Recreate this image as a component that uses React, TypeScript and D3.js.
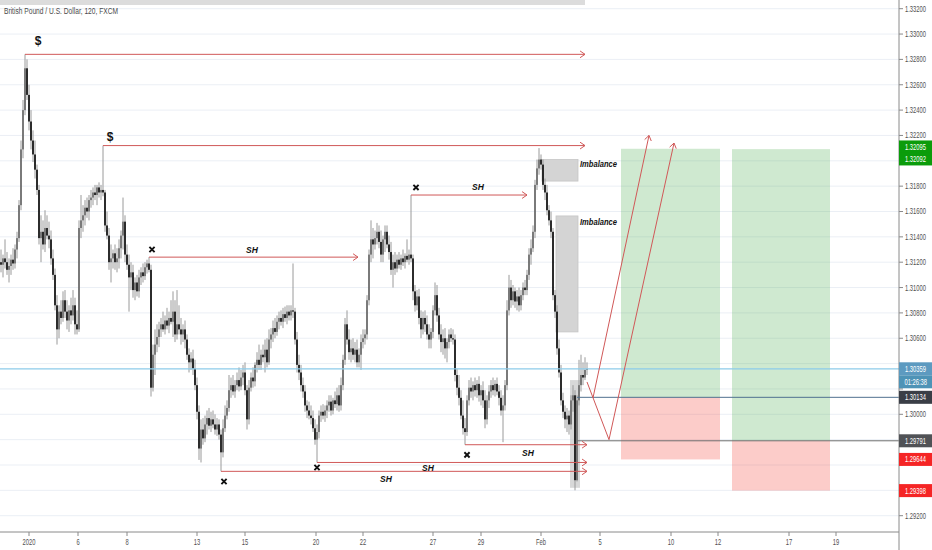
import React from "react";
import * as d3 from "d3";

// GBPUSD 2h candles, [open, high, low, close]
type Bar = [number, number, number, number];

const week0: Bar[] = [
  [1.3120,1.3130,1.3112,1.3118],[1.3118,1.3126,1.3108,1.3123],[1.3123,1.3138,1.3115,1.3120],[1.3120,1.3128,1.3110,1.3114],
  [1.3114,1.3123,1.3104,1.3117],[1.3117,1.3126,1.3110,1.3122],[1.3122,1.3131,1.3114,1.3119],[1.3119,1.3134,1.3115,1.3130],
  [1.3130,1.3144,1.3123,1.3139],[1.3139,1.3169,1.3136,1.3165],[1.3165,1.3216,1.3161,1.3209],[1.3209,1.3248,1.3202,1.3240],
  [1.3240,1.3284,1.3236,1.3273],[1.3273,1.3280,1.3248,1.3252],[1.3252,1.3260,1.3224,1.3231],[1.3231,1.3240,1.3209,1.3216],
  [1.3216,1.3224,1.3199,1.3205],[1.3205,1.3216,1.3186,1.3193],[1.3193,1.3197,1.3173,1.3177],[1.3177,1.3181,1.3134,1.3139],
  [1.3139,1.3157,1.3120,1.3144],[1.3144,1.3153,1.3130,1.3134],[1.3134,1.3161,1.3128,1.3147],[1.3147,1.3157,1.3138,1.3141],
  [1.3141,1.3152,1.3131,1.3138],[1.3138,1.3145,1.3118,1.3123],[1.3123,1.3130,1.3106,1.3110],[1.3110,1.3115,1.3082,1.3086],
  [1.3086,1.3094,1.3055,1.3067],[1.3067,1.3086,1.3060,1.3081],[1.3081,1.3090,1.3071,1.3076],[1.3076,1.3097,1.3073,1.3090],
  [1.3090,1.3098,1.3076,1.3081],[1.3081,1.3090,1.3067,1.3074],[1.3074,1.3086,1.3065,1.3082],[1.3082,1.3092,1.3071,1.3078],
  [1.3078,1.3098,1.3074,1.3086],[1.3086,1.3092,1.3063,1.3071],[1.3071,1.3082,1.3063,1.3067],
];

const week1: Bar[] = [
  [1.3067,1.3153,1.3065,1.3147],[1.3147,1.3173,1.3139,1.3153],[1.3153,1.3165,1.3144,1.3157],[1.3157,1.3169,1.3149,1.3163],
  [1.3163,1.3171,1.3155,1.3160],[1.3160,1.3173,1.3153,1.3169],[1.3169,1.3177,1.3163,1.3171],[1.3171,1.3179,1.3165,1.3175],
  [1.3175,1.3181,1.3169,1.3173],[1.3173,1.3181,1.3165,1.3179],[1.3179,1.3183,1.3171,1.3175],[1.3175,1.3181,1.3169,1.3177],
  [1.3177,1.3212,1.3172,1.3175],[1.3175,1.3177,1.3144,1.3149],[1.3149,1.3160,1.3138,1.3141],[1.3141,1.3147,1.3114,1.3120],
  [1.3120,1.3134,1.3104,1.3123],[1.3123,1.3130,1.3115,1.3127],[1.3127,1.3134,1.3114,1.3120],[1.3120,1.3131,1.3112,1.3123],
  [1.3123,1.3138,1.3115,1.3131],[1.3131,1.3145,1.3123,1.3141],[1.3141,1.3171,1.3130,1.3152],[1.3152,1.3157,1.3120,1.3126],
  [1.3126,1.3134,1.3114,1.3118],[1.3118,1.3126,1.3081,1.3108],[1.3108,1.3120,1.3098,1.3112],[1.3112,1.3118,1.3092,1.3098],
  [1.3098,1.3108,1.3090,1.3104],[1.3104,1.3110,1.3093,1.3097],[1.3097,1.3114,1.3092,1.3108],[1.3108,1.3116,1.3102,1.3112],
  [1.3112,1.3119,1.3104,1.3109],[1.3109,1.3120,1.3106,1.3116],[1.3116,1.3122,1.3111,1.3119],[1.3119,1.3124,1.3112,1.3114],
  [1.3114,1.3118,1.3014,1.3021],[1.3021,1.3055,1.3018,1.3047],[1.3047,1.3067,1.3031,1.3055],[1.3055,1.3071,1.3049,1.3061],
  [1.3061,1.3073,1.3053,1.3067],[1.3067,1.3076,1.3061,1.3071],[1.3071,1.3081,1.3065,1.3067],[1.3067,1.3078,1.3063,1.3074],
  [1.3074,1.3084,1.3067,1.3070],[1.3070,1.3081,1.3064,1.3076],[1.3076,1.3090,1.3071,1.3073],[1.3073,1.3097,1.3061,1.3081],
  [1.3081,1.3090,1.3057,1.3063],[1.3063,1.3098,1.3059,1.3071],[1.3071,1.3086,1.3063,1.3067],[1.3067,1.3076,1.3055,1.3063],
  [1.3063,1.3071,1.3057,1.3067],[1.3067,1.3074,1.3052,1.3059],[1.3059,1.3063,1.3043,1.3047],[1.3047,1.3052,1.3033,1.3041],
  [1.3041,1.3049,1.3035,1.3044],[1.3044,1.3051,1.3031,1.3036],[1.3036,1.3043,1.3019,1.3023],
];

const week2: Bar[] = [
  [1.3023,1.3029,1.2996,1.3002],[1.3002,1.3007,1.2964,1.2973],[1.2973,1.2996,1.2962,1.2988],[1.2988,1.2997,1.2976,1.2981],
  [1.2981,1.2999,1.2978,1.2992],[1.2992,1.3003,1.2984,1.2997],[1.2997,1.3005,1.2988,1.2991],[1.2991,1.3002,1.2986,1.2996],
  [1.2996,1.3003,1.2989,1.2992],[1.2992,1.3000,1.2984,1.2988],[1.2988,1.2997,1.2983,1.2992],[1.2992,1.2996,1.2980,1.2984],
  [1.2984,1.2988,1.2955,1.2970],[1.2970,1.2996,1.2966,1.2989],[1.2989,1.3007,1.2986,1.2999],[1.2999,1.3011,1.2996,1.3005],
  [1.3005,1.3031,1.3002,1.3019],[1.3019,1.3029,1.3013,1.3023],[1.3023,1.3031,1.3015,1.3018],[1.3018,1.3027,1.3013,1.3023],
  [1.3023,1.3033,1.3019,1.3027],[1.3027,1.3037,1.3018,1.3022],[1.3022,1.3035,1.3019,1.3029],[1.3029,1.3039,1.3023,1.3033],
  [1.3033,1.3041,1.3015,1.3019],[1.3019,1.3023,1.2988,1.2996],[1.2996,1.3027,1.2992,1.3021],[1.3021,1.3033,1.3018,1.3029],
  [1.3029,1.3037,1.3021,1.3026],[1.3026,1.3041,1.3022,1.3039],[1.3039,1.3049,1.3033,1.3043],[1.3043,1.3055,1.3035,1.3039],
  [1.3039,1.3051,1.3035,1.3047],[1.3047,1.3055,1.3041,1.3045],[1.3045,1.3059,1.3033,1.3051],[1.3051,1.3060,1.3037,1.3041],
  [1.3041,1.3067,1.3039,1.3059],[1.3059,1.3068,1.3052,1.3063],[1.3063,1.3074,1.3057,1.3068],[1.3068,1.3076,1.3060,1.3065],
  [1.3065,1.3078,1.3062,1.3073],[1.3073,1.3081,1.3067,1.3076],[1.3076,1.3082,1.3070,1.3073],[1.3073,1.3084,1.3068,1.3079],
  [1.3079,1.3085,1.3073,1.3076],[1.3076,1.3086,1.3071,1.3081],[1.3081,1.3086,1.3074,1.3078],[1.3078,1.3086,1.3074,1.3082],
  [1.3082,1.3119,1.3076,1.3081],[1.3081,1.3084,1.3055,1.3059],[1.3059,1.3065,1.3033,1.3039],[1.3039,1.3047,1.3027,1.3033],
  [1.3033,1.3039,1.3018,1.3023],[1.3023,1.3029,1.3013,1.3018],[1.3018,1.3023,1.3002,1.3007],[1.3007,1.3011,1.2997,1.3003],
  [1.3003,1.3010,1.2996,1.2999],[1.2999,1.3007,1.2992,1.2997],[1.2997,1.3003,1.2986,1.2989],[1.2989,1.2996,1.2976,1.2980],
];

const week3: Bar[] = [
  [1.2980,1.2992,1.2962,1.2986],[1.2986,1.3003,1.2981,1.2999],[1.2999,1.3007,1.2994,1.3002],[1.3002,1.3008,1.2996,1.2999],
  [1.2999,1.3007,1.2994,1.3003],[1.3003,1.3011,1.2997,1.3007],[1.3007,1.3015,1.3002,1.3010],[1.3010,1.3015,1.2999,1.3003],
  [1.3003,1.3013,1.3000,1.3011],[1.3011,1.3018,1.3005,1.3008],[1.3008,1.3021,1.3003,1.3015],[1.3015,1.3023,1.3002,1.3007],
  [1.3007,1.3029,1.3003,1.3023],[1.3023,1.3047,1.3019,1.3043],[1.3043,1.3076,1.3039,1.3071],[1.3071,1.3082,1.3055,1.3059],
  [1.3059,1.3067,1.3043,1.3049],[1.3049,1.3059,1.3041,1.3052],[1.3052,1.3060,1.3043,1.3047],[1.3047,1.3057,1.3041,1.3051],
  [1.3051,1.3059,1.3037,1.3041],[1.3041,1.3052,1.3037,1.3047],[1.3047,1.3063,1.3035,1.3057],[1.3057,1.3067,1.3052,1.3060],
  [1.3060,1.3067,1.3055,1.3063],[1.3063,1.3094,1.3059,1.3090],[1.3090,1.3130,1.3086,1.3126],[1.3126,1.3153,1.3120,1.3138],
  [1.3138,1.3147,1.3123,1.3134],[1.3134,1.3145,1.3130,1.3139],[1.3139,1.3151,1.3134,1.3144],[1.3144,1.3149,1.3131,1.3136],
  [1.3136,1.3145,1.3120,1.3126],[1.3126,1.3141,1.3120,1.3138],[1.3138,1.3149,1.3128,1.3144],[1.3144,1.3149,1.3131,1.3134],
  [1.3134,1.3141,1.3122,1.3128],[1.3128,1.3136,1.3110,1.3114],[1.3114,1.3126,1.3100,1.3120],[1.3120,1.3128,1.3110,1.3115],
  [1.3115,1.3126,1.3112,1.3122],[1.3122,1.3128,1.3115,1.3118],[1.3118,1.3126,1.3114,1.3123],[1.3123,1.3130,1.3117,1.3120],
  [1.3120,1.3127,1.3115,1.3125],[1.3125,1.3138,1.3120,1.3122],[1.3122,1.3130,1.3118,1.3126],[1.3126,1.3173,1.3120,1.3123],
  [1.3123,1.3126,1.3090,1.3097],[1.3097,1.3102,1.3081,1.3086],[1.3086,1.3098,1.3082,1.3093],[1.3093,1.3099,1.3071,1.3076],
  [1.3076,1.3082,1.3060,1.3067],[1.3067,1.3081,1.3063,1.3076],[1.3076,1.3082,1.3065,1.3071],[1.3071,1.3078,1.3059,1.3063],
  [1.3063,1.3071,1.3052,1.3059],[1.3059,1.3068,1.3052,1.3065],
];

const week4: Bar[] = [
  [1.3065,1.3086,1.3060,1.3082],[1.3082,1.3104,1.3078,1.3094],[1.3094,1.3102,1.3073,1.3078],[1.3078,1.3084,1.3059,1.3063],
  [1.3063,1.3071,1.3049,1.3057],[1.3057,1.3067,1.3047,1.3060],[1.3060,1.3068,1.3044,1.3052],[1.3052,1.3060,1.3041,1.3057],
  [1.3057,1.3067,1.3052,1.3063],[1.3063,1.3068,1.3057,1.3060],[1.3060,1.3067,1.3055,1.3059],[1.3059,1.3063,1.3026,1.3031],
  [1.3031,1.3036,1.3015,1.3021],[1.3021,1.3031,1.3007,1.3013],[1.3013,1.3019,1.2996,1.2999],[1.2999,1.3011,1.2984,1.2989],
  [1.2989,1.2997,1.2976,1.2986],[1.2986,1.3015,1.2983,1.3011],[1.3011,1.3027,1.3007,1.3021],[1.3021,1.3029,1.3013,1.3018],
  [1.3018,1.3026,1.3011,1.3023],[1.3023,1.3029,1.3014,1.3019],[1.3019,1.3027,1.3013,1.3024],[1.3024,1.3030,1.3010,1.3015],
  [1.3015,1.3023,1.3007,1.3019],[1.3019,1.3026,1.3005,1.3011],[1.3011,1.3019,1.2989,1.2996],[1.2996,1.3015,1.2992,1.3011],
  [1.3011,1.3023,1.3005,1.3018],[1.3018,1.3027,1.3013,1.3023],[1.3023,1.3029,1.3015,1.3019],[1.3019,1.3027,1.3014,1.3024],
  [1.3024,1.3029,1.3015,1.3018],[1.3018,1.3023,1.3007,1.3013],[1.3013,1.3019,1.2999,1.3003],[1.3003,1.3015,1.2978,1.3007],
  [1.3007,1.3027,1.3003,1.3023],[1.3023,1.3090,1.3019,1.3082],[1.3082,1.3110,1.3078,1.3100],[1.3100,1.3106,1.3084,1.3090],
  [1.3090,1.3102,1.3086,1.3097],[1.3097,1.3100,1.3084,1.3089],[1.3089,1.3098,1.3082,1.3093],[1.3093,1.3100,1.3081,1.3086],
  [1.3086,1.3098,1.3082,1.3094],[1.3094,1.3104,1.3090,1.3100],[1.3100,1.3106,1.3094,1.3098],[1.3098,1.3114,1.3094,1.3110],
  [1.3110,1.3131,1.3106,1.3126],[1.3126,1.3138,1.3118,1.3131],[1.3131,1.3149,1.3128,1.3144],[1.3144,1.3185,1.3139,1.3181],
  [1.3181,1.3201,1.3177,1.3194],[1.3194,1.3210,1.3189,1.3201],[1.3201,1.3205,1.3193,1.3197],[1.3197,1.3201,1.3177,1.3181],
  [1.3181,1.3186,1.3169,1.3175],[1.3175,1.3181,1.3157,1.3161],[1.3161,1.3165,1.3149,1.3153],[1.3153,1.3160,1.3139,1.3144],
];

const week5: Bar[] = [
  [1.3144,1.3147,1.3090,1.3094],[1.3094,1.3098,1.3076,1.3081],[1.3081,1.3086,1.3047,1.3052],[1.3052,1.3059,1.3029,1.3033],
  [1.3033,1.3039,1.3007,1.3011],[1.3011,1.3017,1.2997,1.3002],[1.3002,1.3007,1.2989,1.2996],[1.2996,1.3005,1.2986,1.2999],
  [1.2999,1.3003,1.2984,1.2992],[1.2992,1.3015,1.2988,1.3011],[1.3011,1.3023,1.3002,1.3015],[1.3015,1.3019,1.2940,1.2948],
  [1.2948,1.3015,1.2947,1.3011],[1.3011,1.3043,1.3007,1.3023],[1.3023,1.3047,1.3018,1.3031],[1.3031,1.3041,1.3023,1.3029],
  [1.3029,1.3045,1.3027,1.3035],[1.3035,1.3041,1.3031,1.30359],
];

const bars: Bar[] = [...week0, ...week1, ...week2, ...week3, ...week4, ...week5];

// time axis labels, positioned in bar units
const timeTickLabels = ["2020", "6", "8", "13", "15", "20", "22", "27", "29", "Feb", "5", "10", "12", "17", "19"];
const timeTickBars = [14, 38.5, 63, 98, 122, 157.5, 181, 216, 240, 270, 299.5, 335, 358.5, 394, 417.5];

// liquidity / swing levels drawn from a bar's high or low
const levels = [
  { bar: 12, side: "high", end: 292, mark: "$", markAt: [18.5, 1.3295], label: "", labelAt: [0, 0] },
  { bar: 51, side: "high", end: 292, mark: "$", markAt: [54.5, 1.3219], label: "", labelAt: [0, 0] },
  { bar: 74, side: "high", end: 178.5, mark: "x", markAt: [75.5, 1.3130], label: "SH", labelAt: [125.5, 1.3130] },
  { bar: 205, side: "high", end: 263, mark: "x", markAt: [207.5, 1.3179], label: "SH", labelAt: [238.5, 1.3179] },
  { bar: 110, side: "low", end: 293, mark: "x", markAt: [111.5, 1.2947], label: "SH", labelAt: [192.5, 1.2949] },
  { bar: 158, side: "low", end: 293, mark: "x", markAt: [158, 1.2958], label: "SH", labelAt: [213.5, 1.2958] },
  { bar: 232, side: "low", end: 293, mark: "x", markAt: [233, 1.2968], label: "SH", labelAt: [263.5, 1.29695] },
];

const imbalances = [
  { from: 270.5, to: 288.5, top: 1.3201, bottom: 1.3184, labelPrice: 1.31975 },
  { from: 277.5, to: 288.5, top: 1.31565, bottom: 1.3065, labelPrice: 1.3152 },
];

const highlight = { from: 284.5, to: 289.5, top: 1.3027, bottom: 1.2942 };

const trades = [
  { from: 310, to: 359.5, entry: 1.30134, target: 1.32095, stop: 1.29644 },
  { from: 365.5, to: 414.5, entry: 1.29791, target: 1.32092, stop: 1.29398 },
];

const pathA: [number, number][] = [[293, 1.30255], [304, 1.2980], [336.5, 1.3214]];
const pathB: [number, number][] = [[296, 1.3013], [324, 1.3220]];

const lastPrice = 1.30359;
const countdown = "01:26:38";

const priceLabels = [
  { price: 1.32095, fill: "#0b9c0b", shift: -1.8 },
  { price: 1.32092, fill: "#0b9c0b", shift: 9.8 },
  { price: 1.30359, fill: "#5d9ac0", shift: 0 },
  { price: 1.30134, fill: "#3a3e46", shift: 0 },
  { price: 1.29791, fill: "#505256", shift: 0 },
  { price: 1.29644, fill: "#f52525", shift: 0 },
  { price: 1.29398, fill: "#f52525", shift: 0 },
];

const FONT = "'Liberation Sans', Arial, sans-serif";
const RED = "#d05858";
const fmt = d3.format(".5f");

// narrow axis text: squeeze horizontally instead of relying on a condensed face
const AxisText: React.FC<{ x: number; y: number; fill: string; children: React.ReactNode; anchor?: string }> =
  ({ x, y, fill, children, anchor }) => (
    <text transform={`translate(${x},${y}) scale(0.68,1)`} dy="0.35em" fontSize={8.5} fill={fill}
      textAnchor={anchor || "start"}>{children}</text>
  );

const App: React.FC = () => {
  const W = 932, H = 550;
  const right = 899, bottom = 532;

  const x = d3.scaleLinear().domain([0, 449]).range([1, right]);
  const y = d3.scaleLinear().domain([1.292, 1.332]).range([515.7, 8.7]);
  const priceTicks = y.ticks(20);

  // label boxes on the axis hide the tick text below them
  const boxCentres = [
    ...priceLabels.map(pl => y(pl.price) + pl.shift),
    y(lastPrice) + 13,
  ];
  const tickHidden = (t: number) => boxCentres.some(c => Math.abs(c - y(t)) < 8);

  const line = d3.line<[number, number]>().x(d => x(d[0])).y(d => y(d[1]));

  const head = (x2: number, y2: number, ang: number, key: string) => {
    const L = 6, a = 0.6;
    const p1 = [x2 - L * Math.cos(ang - a), y2 - L * Math.sin(ang - a)];
    const p2 = [x2 - L * Math.cos(ang + a), y2 - L * Math.sin(ang + a)];
    return (
      <path key={key} d={`M${p1[0]},${p1[1]}L${x2},${y2}L${p2[0]},${p2[1]}`}
        fill="none" stroke={RED} strokeWidth={1} />
    );
  };

  const headFor = (pts: [number, number][], key: string) => {
    const n = pts.length;
    const x1 = x(pts[n - 2][0]), y1 = y(pts[n - 2][1]);
    const x2 = x(pts[n - 1][0]), y2 = y(pts[n - 1][1]);
    return head(x2, y2, Math.atan2(y2 - y1, x2 - x1), key);
  };

  return (
    <svg width={W} height={H} style={{ position: "absolute", left: 0, top: 0, background: "#fff" }}
      fontFamily={FONT}>
      <rect width={W} height={H} fill="#fff" />
      <rect x={0} y={0} width={585} height={5} fill="#dcdcdc" />

      {/* grid */}
      {priceTicks.map(t => (
        <line key={"g" + t} x1={0} x2={right} y1={y(t)} y2={y(t)} stroke="#ebeff5" strokeWidth={1} />
      ))}

      {/* trade boxes */}
      {trades.map((t, i) => (
        <g key={"t" + i}>
          <rect x={x(t.from)} width={x(t.to) - x(t.from)} y={y(t.target)} height={y(t.entry) - y(t.target)}
            fill="#4caf50" fillOpacity={0.27} />
          <rect x={x(t.from)} width={x(t.to) - x(t.from)} y={y(t.entry)} height={y(t.stop) - y(t.entry)}
            fill="#f44336" fillOpacity={0.27} />
        </g>
      ))}

      {/* imbalance zones */}
      {imbalances.map((b, i) => (
        <g key={"im" + i}>
          <rect x={x(b.from)} width={x(b.to) - x(b.from)} y={y(b.top)} height={y(b.bottom) - y(b.top)}
            fill="#d4d4d4" stroke="#c6c6c6" strokeWidth={0.8} />
          <text x={x(b.to) + 2} y={y(b.labelPrice)} dy="0.35em" fontSize={8.5} fontWeight="bold"
            fontStyle="italic" fill="#111" textLength={37} lengthAdjust="spacingAndGlyphs">Imbalance</text>
        </g>
      ))}
      <rect x={x(highlight.from)} width={x(highlight.to) - x(highlight.from)} y={y(highlight.top)}
        height={y(highlight.bottom) - y(highlight.top)} fill="#c8c8c8" fillOpacity={0.7} />

      {/* candles */}
      {bars.map((b, i) => {
        const [o, h, l, c] = b;
        const up = c >= o;
        const cx = x(i);
        const top = y(Math.max(o, c));
        const hgt = Math.max(0.8, Math.abs(y(o) - y(c)));
        return (
          <g key={"c" + i}>
            <line x1={cx} x2={cx} y1={y(h)} y2={y(l)} stroke="#9a9a9a" strokeWidth={1} />
            <rect x={cx - 0.85} width={1.7} y={top} height={hgt} fill={up ? "#6c6c6c" : "#111"} />
          </g>
        );
      })}

      {/* last price & entry lines */}
      <line x1={0} x2={right} y1={y(lastPrice)} y2={y(lastPrice)} stroke="#8ccbea" strokeWidth={1.3} />
      <line x1={x(288)} x2={right} y1={y(trades[0].entry)} y2={y(trades[0].entry)} stroke="#50708f" strokeWidth={1} />
      <line x1={x(288)} x2={right} y1={y(trades[1].entry)} y2={y(trades[1].entry)} stroke="#6e6e6e" strokeWidth={1} />

      {/* swing levels */}
      {levels.map((lv, i) => {
        const bar = bars[lv.bar];
        const p = lv.side === "high" ? bar[1] : bar[2];
        const x1 = x(lv.bar), x2 = x(lv.end), yy = y(p);
        const mx = x(lv.markAt[0]), my = y(lv.markAt[1]);
        return (
          <g key={"lv" + i}>
            <line x1={x1} x2={x2} y1={yy} y2={yy} stroke={RED} strokeWidth={1} />
            {head(x2, yy, 0, "h")}
            {lv.mark === "$" ? (
              <text x={mx} y={my} dy="0.35em" textAnchor="middle" fontSize={12} fontWeight="bold"
                fill="#111">$</text>
            ) : (
              <path d={`M${mx - 2.6},${my - 2.6}L${mx + 2.6},${my + 2.6}M${mx + 2.6},${my - 2.6}L${mx - 2.6},${my + 2.6}`}
                stroke="#111" strokeWidth={1.9} />
            )}
            {lv.label && (
              <text x={x(lv.labelAt[0])} y={y(lv.labelAt[1])} dy="0.35em" textAnchor="middle" fontSize={8.5}
                fontWeight="bold" fontStyle="italic" fill="#111">{lv.label}</text>
            )}
          </g>
        );
      })}

      {/* projected paths */}
      <path d={line(pathA) || ""} fill="none" stroke={RED} strokeWidth={1} />
      {headFor(pathA, "ha")}
      <path d={line(pathB) || ""} fill="none" stroke={RED} strokeWidth={1} />
      {headFor(pathB, "hb")}

      {/* title */}
      <text x={4} y={11} dy="0.35em" fontSize={8.5} fill="#4a4a4a" textLength={114}
        lengthAdjust="spacingAndGlyphs">British Pound / U.S. Dollar, 120, FXCM</text>

      {/* price axis */}
      <line x1={right} x2={right} y1={0} y2={H} stroke="#8a8a8a" strokeWidth={1} />
      {priceTicks.map(t => (
        <g key={"pt" + t}>
          <line x1={right} x2={right + 4} y1={y(t)} y2={y(t)} stroke="#8a8a8a" />
          {!tickHidden(t) && <AxisText x={905} y={y(t)} fill="#505050">{fmt(t)}</AxisText>}
        </g>
      ))}
      {priceLabels.map((pl, i) => {
        const cy = y(pl.price) + pl.shift;
        return (
          <g key={"pl" + i}>
            <rect x={right} y={cy - 6.5} width={W - right} height={13} fill={pl.fill} />
            <AxisText x={905} y={cy} fill="#fff">{fmt(pl.price)}</AxisText>
          </g>
        );
      })}
      <rect x={right} y={y(lastPrice) + 6.5} width={W - right} height={13} fill="#4e93b6" />
      <AxisText x={904.5} y={y(lastPrice) + 13} fill="#fff">{countdown}</AxisText>

      {/* time axis */}
      <line x1={0} x2={right} y1={bottom} y2={bottom} stroke="#8a8a8a" strokeWidth={1} />
      {timeTickLabels.map((lab, i) => {
        const tx = x(timeTickBars[i]);
        return (
          <g key={"tt" + i}>
            <line x1={tx} x2={tx} y1={bottom} y2={bottom + 4} stroke="#8a8a8a" />
            <AxisText x={tx} y={542} fill="#505050" anchor="middle">{lab}</AxisText>
          </g>
        );
      })}
    </svg>
  );
};

export default App;
